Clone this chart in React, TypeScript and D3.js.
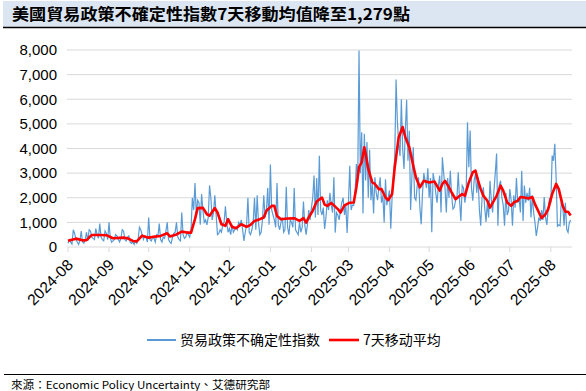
import React from 'react'
import * as d3 from 'd3'

const W = 586
const H = 391

const startDate = new Date(2024, 7, 1)
const endDate = new Date(2025, 7, 17)

const titleText = '美國貿易政策不確定性指數7天移動均值降至1,279點'
const sourceText = '來源：Economic Policy Uncertainty、艾德研究部'
const legendLabels = ['贸易政策不确定性指数', '7天移动平均']
const yTicks = [0, 1000, 2000, 3000, 4000, 5000, 6000, 7000, 8000]

// daily index, starting 2024-08-01
const dailyIndex = [
  // 2024-08
  150, 300, 200, 120, 700, 550, 300, 200, 100, 250, 650, 200, 150, 300, 600, 250,
  700, 650, 400, 350, 300, 750, 500, 350, 950, 400, 300, 250, 650, 550, 300,
  // 2024-09
  1000, 350, 200, 250, 300, 500, 450, 300, 200, 350, 700, 650, 300, 250, 400, 450,
  200, 150, 200, 100, 250, 150, 300, 800, 700, 500, 300, 450, 400, 200,
  // 2024-10
  1200, 300, 250, 400, 350, 200, 500, 450, 950, 300, 200, 400, 350, 650, 1000, 300,
  200, 150, 400, 550, 600, 1000, 400, 300, 250, 1400, 500, 350, 400, 600, 500,
  // 2024-11
  400, 700, 2000, 1500, 2600, 1300, 1900, 1800, 900, 2150, 1500, 1000, 1100, 900, 1200,
  2500, 2000, 1100, 1400, 2100, 1300, 500, 550, 700, 600, 900, 1000, 1650, 1000, 600,
  // 2024-12
  750, 500, 900, 600, 700, 800, 700, 1000, 900, 1100, 700, 250, 600, 900, 2000, 600,
  500, 700, 1000, 2000, 700, 2100, 1000, 500, 600, 1100, 2100, 1200, 1500, 2400, 900,
  // 2025-01
  3350, 1500, 1300, 1100, 800, 2600, 900, 700, 1000, 1200, 600, 700, 2450, 800, 500, 1100,
  1000, 800, 2400, 700, 600, 500, 1000, 600, 800, 1850, 900, 500, 900, 1500, 1100,
  // 2025-02
  1600, 2000, 2900, 1200, 2800, 1300, 3700, 1500, 1300, 1600, 730, 1200, 1900, 1500,
  2200, 1700, 1400, 2830, 585, 1400, 1300, 1100, 1500, 1800, 2000, 1300, 1700, 570,
  // 2025-03
  1800, 3300, 1500, 1700, 1690, 2200, 3370, 2600, 7980, 3000, 4660, 1360, 4600, 2700, 4260,
  2000, 3950, 1900, 2600, 1360, 2830, 2200, 1900, 2400, 2830, 1800, 2100, 1000, 2750, 1700, 2000,
  // 2025-04
  2300, 740, 2000, 2900, 3600, 6800, 5080, 4200, 3700, 6000, 4000, 3170, 4730, 5980, 3500,
  4720, 1500, 2900, 4050, 2000, 1900, 2500, 2830, 1600, 920, 2200, 3000, 2690, 2400, 3200,
  // 2025-05
  2000, 2800, 600, 3000, 2690, 2200, 1800, 2500, 2900, 1400, 3640, 3000, 2400, 1400, 2800,
  2000, 3100, 2100, 1540, 1600, 1900, 2000, 3030, 1900, 1060, 2500, 2400, 1800, 2200, 5070, 3240,
  // 2025-06
  4730, 2400, 1880, 2700, 2960, 2200, 2830, 1500, 860, 2000, 2420, 1600, 1020, 1800, 1200,
  2690, 1900, 1400, 2300, 3000, 3800, 860, 2500, 2690, 2000, 1700, 860, 2200, 1300, 1470,
  // 2025-07
  2350, 1900, 860, 2100, 1600, 2800, 1800, 2000, 1400, 3100, 1060, 2500, 1800, 2200, 1880,
  2400, 1200, 2100, 1400, 1000, 450, 800, 1200, 1060, 1500, 1100, 2030, 1200, 900, 1540, 2000,
  // 2025-08
  1800, 3710, 3500, 4190, 2800, 840, 900, 860, 1980, 1700, 860, 1800, 720, 600, 1000, 1090,
]

// 7-day average: [day offset from 2024-08-01, value]
const movingAvg: [number, number][] = [
  [0, 250], [6, 340], [11, 270], [14, 280], [18, 490], [24, 490], [29, 480], [34, 355],
  [42, 380], [45, 355], [49, 245], [52, 230], [56, 460], [61, 380], [64, 410], [70, 450],
  [75, 560], [77, 430], [82, 510], [86, 625], [90, 585], [93, 585], [96, 1130], [98, 1580],
  [102, 1590], [105, 1330], [107, 1270], [111, 1580], [113, 1400], [116, 925], [119, 860],
  [121, 1130], [124, 820], [127, 760], [131, 925], [135, 820], [138, 900], [141, 1060],
  [145, 1130], [148, 1200], [150, 1470], [154, 1670], [156, 1670], [158, 1260], [161, 1130],
  [166, 1160], [171, 1170], [175, 1060], [178, 1170], [180, 990], [182, 1200], [185, 1470],
  [188, 1850], [192, 2010], [194, 1720], [196, 1670], [199, 1790], [204, 1540], [206, 1400],
  [209, 1690], [213, 1800], [216, 1810], [218, 2420], [220, 3240], [222, 3440], [224, 4050],
  [225, 3780], [227, 3170], [230, 2620], [232, 2560], [235, 2350], [237, 2350], [240, 2010],
  [242, 1900], [245, 2150], [247, 3240], [250, 4460], [253, 4870], [255, 4460], [258, 4050],
  [261, 3300], [263, 2830], [266, 2420], [269, 2690], [273, 2620], [277, 2660], [281, 2290],
  [283, 2560], [285, 2690], [288, 2420], [290, 2220], [293, 1940], [295, 2030], [298, 2150],
  [300, 2080], [303, 2620], [306, 3030], [308, 3100], [310, 2690], [312, 2350], [314, 2080],
  [317, 1880], [319, 1600], [322, 1880], [324, 2080], [327, 2490], [329, 2290], [332, 1810],
  [335, 1670], [337, 1810], [340, 1880], [342, 2030], [346, 2000], [348, 1970], [351, 2030],
  [353, 1740], [356, 1400], [358, 1170], [361, 1330], [363, 1540], [366, 2150], [369, 2560],
  [371, 2350], [374, 1670], [376, 1430], [378, 1430], [380, 1279],
]

export default function App() {
  const x = d3.scaleTime().domain([startDate, endDate]).range([68, 572])
  const y = d3.scaleLinear().domain([0, 8000]).range([247, 50])
  const fmt = d3.timeFormat('%Y-%m')
  const months = d3.timeMonth.range(startDate, endDate)

  const dayLine = d3
    .line<number>()
    .x((_, i) => x(d3.timeDay.offset(startDate, i)))
    .y((d) => y(d))
  const maLine = d3
    .line<[number, number]>()
    .x((d) => x(d3.timeDay.offset(startDate, d[0])))
    .y((d) => y(d[1]))

  const axisFont = '"Liberation Sans", Arial, sans-serif'
  const cjkFont = '"Noto Sans CJK SC", sans-serif'

  return (
    <svg
      width={W}
      height={H}
      style={{position: 'absolute', left: 0, top: 0, background: '#fff'}}
    >
      {/* title bar */}
      <rect x={3} y={1} width={W - 3} height={26} fill="#dce6f2" />
      <line x1={3} x2={W} y1={27.5} y2={27.5} stroke="#000" strokeWidth={1.5} />
      <text
        x={12}
        y={20}
        fontFamily='"Noto Sans CJK TC", serif'
        fontWeight="bold"
        fontSize={16}
        textLength={398}
        lengthAdjust="spacingAndGlyphs"
        fill="#000"
      >
        {titleText}
      </text>

      {/* grid + y labels */}
      {yTicks.map((t) => (
        <g key={t}>
          {t > 0 && (
            <line x1={67} x2={572} y1={y(t)} y2={y(t)} stroke="#d9d9d9" strokeWidth={1} />
          )}
          <text
            x={57}
            y={y(t)}
            dy="0.35em"
            textAnchor="end"
            fontFamily={axisFont}
            fontSize={15}
            fill="#000"
          >
            {d3.format(',')(t)}
          </text>
        </g>
      ))}

      {/* x axis */}
      <line x1={67} x2={572} y1={y(0)} y2={y(0)} stroke="#d9d9d9" strokeWidth={1} />
      {months.map((m) => (
        <g key={m.getTime()}>
          <line x1={x(m)} x2={x(m)} y1={y(0)} y2={y(0) + 5} stroke="#d9d9d9" />
          <text
            transform={`translate(${x(m) + 6},${y(0) + 19}) rotate(-45)`}
            textAnchor="end"
            fontFamily={axisFont}
            fontSize={15.5}
            fill="#000"
          >
            {fmt(m)}
          </text>
        </g>
      ))}

      {/* series */}
      <path d={dayLine(dailyIndex) || ''} fill="none" stroke="#5b9bd5" strokeWidth={1.2} />
      <path
        d={maLine(movingAvg) || ''}
        fill="none"
        stroke="#ff0000"
        strokeWidth={2.6}
        strokeLinejoin="round"
      />

      {/* legend */}
      <line x1={147} x2={176} y1={340} y2={340} stroke="#5b9bd5" strokeWidth={2} />
      <text x={180} y={345} fontFamily={cjkFont} fontSize={14} fill="#000">
        {legendLabels[0]}
      </text>
      <line x1={329} x2={359} y1={340} y2={340} stroke="#ff0000" strokeWidth={2.6} />
      <text x={363} y={345} fontFamily={cjkFont} fontSize={14} fill="#000">
        {legendLabels[1]}
      </text>

      {/* source */}
      <line x1={4} x2={W} y1={374.5} y2={374.5} stroke="#000" strokeWidth={1.2} />
      <text
        x={11}
        y={389}
        fontFamily='"Noto Sans CJK TC", monospace'
        fontSize={11}
        textLength={259}
        lengthAdjust="spacingAndGlyphs"
        fill="#000"
      >
        {sourceText}
      </text>
    </svg>
  )
}
